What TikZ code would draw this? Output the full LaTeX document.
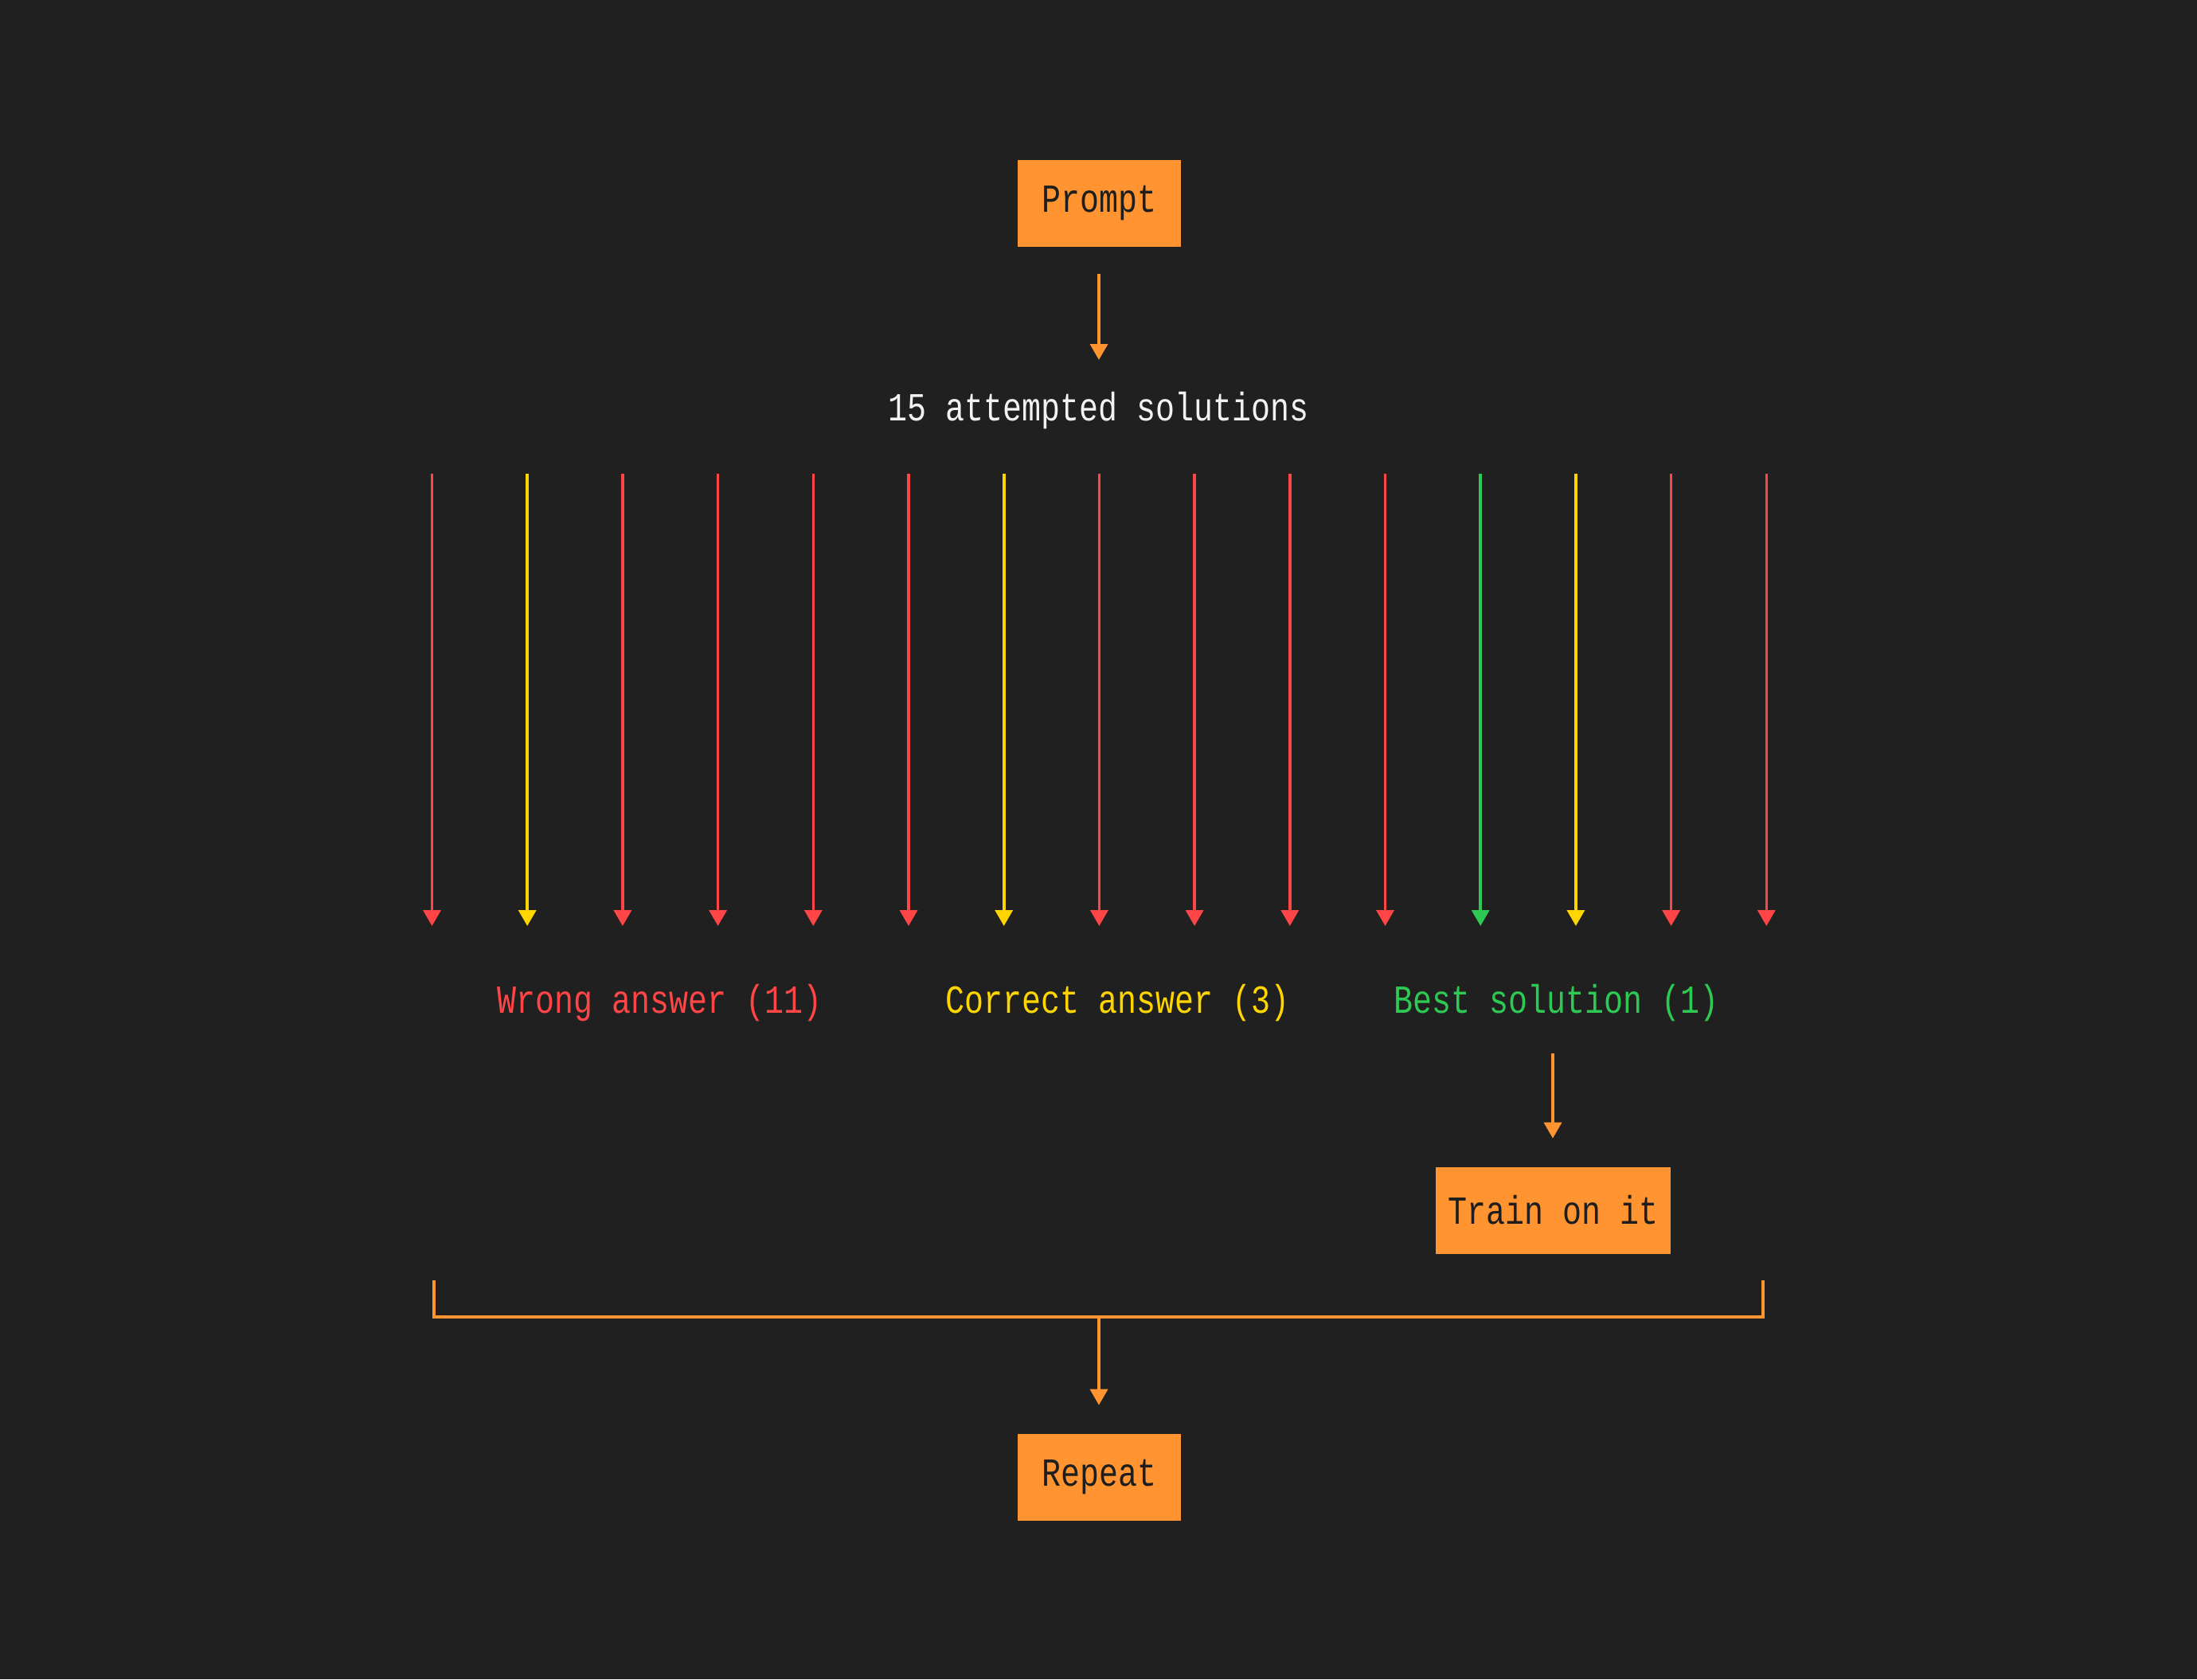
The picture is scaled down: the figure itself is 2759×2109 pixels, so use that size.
\documentclass[tikz,border=0pt]{standalone}
\usepackage{fontspec}
\setmainfont{Liberation Mono}[FakeStretch=0.8]
\usetikzlibrary{arrows.meta}
\definecolor{bg}{HTML}{202020}
\definecolor{orng}{HTML}{FF9430}
\definecolor{wrongc}{HTML}{FF4545}
\definecolor{rightc}{HTML}{FFD500}
\definecolor{bestc}{HTML}{2EC952}
\definecolor{ink}{HTML}{1E1E1E}
\definecolor{paper}{HTML}{F2F2F2}

\begin{document}
\begin{tikzpicture}[x=0.25pt,y=-0.25pt,
    box/.style={fill=orng,text=ink,minimum height=27.25pt,inner sep=0pt,font=\fontsize{12.5}{14}\selectfont},
    lbl/.style={inner sep=0pt,font=\fontsize{12.5}{14}\selectfont},
    arr/.style={line width=0.9pt,-{Triangle[width=5.5pt,length=5pt]}}]
  \fill[bg] (0,0) rectangle (2759,2109);
  \useasboundingbox (0,0) rectangle (2759,2109);

  \node[box,minimum width=51.25pt] (prompt) at (1380,255) {Prompt};
  \coordinate (attin) at (1380,452);
  \draw[arr,orng,shorten <=8.3pt] (prompt.south) -- (attin);
  \node[lbl,text=paper] (att) at (1380,516) {15 attempted solutions};

  % one arrow per attempt
  \foreach \n/\c in {1/wrongc,2/rightc,3/wrongc,4/wrongc,5/wrongc,6/wrongc,7/rightc,8/wrongc,
                     9/wrongc,10/wrongc,11/wrongc,12/bestc,13/rightc,14/wrongc,15/wrongc}{
    \coordinate (top\n) at ({542.5+(\n-1)*119.7},595);
    \coordinate (bot\n) at ({542.5+(\n-1)*119.7},1163);
    \draw[arr,\c] (top\n) -- (bot\n);
  }

  \node[lbl,text=wrongc] (wrong) at (829,1260) {Wrong answer (11)};
  \node[lbl,text=rightc] (correct) at (1404,1260) {Correct answer (3)};
  \node[lbl,text=bestc] (best) at (1955,1260) {Best solution (1)};

  \node[box,minimum width=73.75pt] (train) at (1950,1520) {Train on it};
  \coordinate (bestout) at (1950,1323);
  \draw[arr,orng,shorten >=8.75pt] (bestout) -- (train.north);

  % bracket back to the top
  \coordinate (bl) at (545,1608);
  \coordinate (br) at (2214,1608);
  \coordinate (bm) at (1380,1654);
  \draw[orng,line width=1pt] (bl) -- (bl |- bm) -- (br |- bm) -- (br);

  \node[box,minimum width=51.25pt] (repeat) at (1380,1855) {Repeat};
  \draw[arr,orng,shorten >=8.75pt] (bm) -- (repeat.north);
\end{tikzpicture}
\end{document}
